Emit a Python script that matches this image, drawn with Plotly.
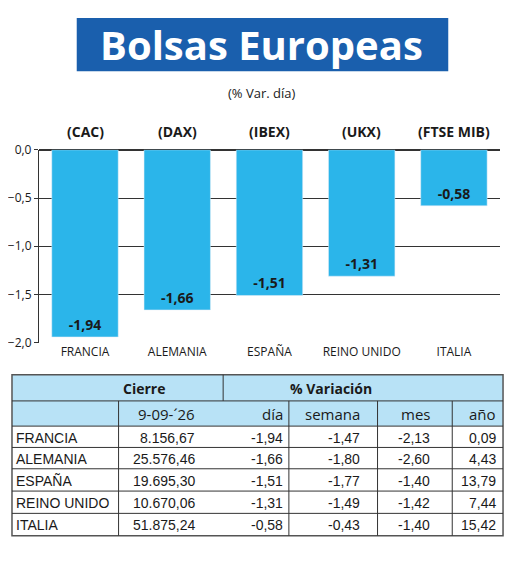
import plotly.graph_objects as go

paises = ["FRANCIA", "ALEMANIA", "ESPAÑA", "REINO UNIDO", "ITALIA"]
indices = ["(CAC)", "(DAX)", "(IBEX)", "(UKX)", "(FTSE MIB)"]
var_dia = [-1.94, -1.66, -1.51, -1.31, -0.58]
cierre = ["8.156,67", "25.576,46", "19.695,30", "10.670,06", "51.875,24"]
var_semana = ["-1,47", "-1,80", "-1,77", "-1,49", "-0,43"]
var_mes = ["-2,13", "-2,60", "-1,40", "-1,42", "-1,40"]
var_anio = ["0,09", "4,43", "13,79", "7,44", "15,42"]
fecha = "9-09-´26"

# page body has an 8px margin, so the figure is drawn 8px in from the corner
OFF = 8
W, H = 504, 557
X = lambda p: (p - OFF) / W
Y = lambda p: 1 - (p - OFF) / H
FONT = "Open Sans"
NARROW = "Liberation Sans Narrow, Liberation Sans"
BLUE = "#2bb5ea"
DARK = "#1a1a1a"

fig = go.Figure(go.Bar(
    x=paises, y=var_dia, marker_color=BLUE, width=0.72,
    text=[f"{v:.2f}".replace(".", ",") for v in var_dia],
    textposition="inside", insidetextanchor="end",
    textfont=dict(family=FONT, size=14, color=DARK, weight="bold"),
))


def note(text, px, py, size, color=DARK, family=FONT, xanchor="center"):
    return dict(text=text, x=X(px), y=Y(py), xref="paper", yref="paper", xanchor=xanchor,
                yanchor="middle", showarrow=False, font=dict(family=family, size=size, color=color))


def line(x0, y0, x1, y1, w=1):
    return dict(type="line", xref="paper", yref="paper", x0=X(x0), x1=X(x1), y0=Y(y0), y1=Y(y1),
                line=dict(color="#333", width=w))


shapes = []
ann = []
# title banner
shapes.append(dict(type="rect", xref="paper", yref="paper", x0=X(75), x1=X(448), y0=Y(64), y1=Y(9),
                   fillcolor="#1a5fad", line_width=0, layer="below"))
ann.append(note("<b>Bolsas Europeas</b>", 261, 36, 40, color="white"))
ann.append(note("(% Var. día)", 261, 86, 13))
for p, idx in zip(paises, indices):
    ann.append(dict(text=f"<b>{idx}</b>", x=p, y=0, xref="x", yref="y", yshift=18, yanchor="middle",
                    showarrow=False, font=dict(family=FONT, size=14, color=DARK)))

# table
tl, tr = 10, 503
rows_y = [377, 404, 430, 452, 474, 497, 520, 543]
shapes.append(dict(type="rect", xref="paper", yref="paper", x0=X(tl), x1=X(tr), y0=Y(430), y1=Y(377),
                   fillcolor="#b8e2f6", line_width=0, layer="below"))
shapes.append(dict(type="rect", xref="paper", yref="paper", x0=X(tl), x1=X(tr), y0=Y(543), y1=Y(377),
                   line=dict(color="#555", width=1.5)))
for ry in rows_y[1:-1]:
    shapes.append(line(tl, ry, tr, ry))
shapes.append(line(222, 377, 222, 404))
for cx in [117, 288, 377, 452]:
    shapes.append(line(cx, 404, cx, 543))
ann.append(note("<b>Cierre</b>", 143, 391, 14))
ann.append(note("<b>% Variación</b>", 330, 391, 14))
heads = [(fecha, 196), ("día", 284), ("semana", 361), ("mes", 432), ("año", 498)]
for h, rx in heads:
    ann.append(note(h, rx, 418, 15, xanchor="right"))
for i, p in enumerate(paises):
    cy = (rows_y[i + 2] + rows_y[i + 3]) / 2 + 1
    ann.append(note(p, 12, cy, 14, family=NARROW, xanchor="left"))
    vals = [(cierre[i], 196), (f"{var_dia[i]:.2f}".replace(".", ","), 284), (var_semana[i], 361),
            (var_mes[i], 432), (var_anio[i], 498)]
    for v, rx in vals:
        ann.append(note(v, rx, cy, 14, family=NARROW, xanchor="right"))

fig.update_layout(
    width=W, height=H, margin=dict(l=0, r=0, t=0, b=0),
    paper_bgcolor="white", plot_bgcolor="white", showlegend=False,
    separators=",.", bargap=0.28,
    shapes=shapes, annotations=ann,
    xaxis=dict(domain=[X(37), X(500)], showline=False, ticks="",
               tickfont=dict(family=FONT, size=12, color=DARK)),
    yaxis=dict(domain=[Y(344), Y(145)], range=[-2, 0], dtick=0.5, tickformat=".1f",
               showgrid=True, gridcolor="#333", gridwidth=1, zeroline=True, zerolinecolor="#333",
               showline=True, linecolor="#333", ticks="outside", ticklen=4, tickcolor="#333",
               tickfont=dict(family=FONT, size=12, color=DARK)),
)
fig.write_html("out.html")
